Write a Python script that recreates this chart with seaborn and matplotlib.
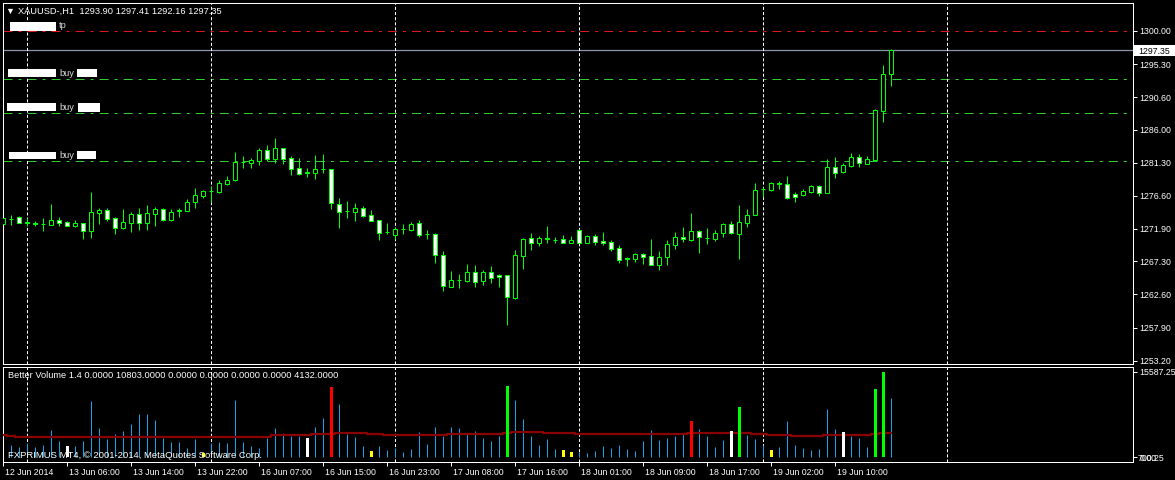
import numpy as np
import pandas as pd
import matplotlib
matplotlib.use('Agg')
import matplotlib.pyplot as plt
import matplotlib.transforms as mtransforms
from matplotlib.patches import Rectangle
import seaborn as sns

# XAUUSD H1, 12 Jun 22:00 -> 19 Jun 17:00 (112 bars)
opens = [
    1272.60, 1273.27, 1273.55, 1272.84, 1272.70, 1272.56, 1272.51, 1273.17, 1272.84, 1272.37,
    1272.70, 1271.66, 1274.21, 1274.59, 1273.41, 1272.09, 1272.79, 1273.98, 1272.75, 1274.07,
    1274.74, 1273.17, 1274.50, 1274.50, 1275.73, 1276.63, 1277.24, 1277.15, 1278.33, 1278.85,
    1281.41, 1281.31, 1281.55, 1283.11, 1281.88, 1283.39, 1281.97, 1280.56, 1279.94, 1279.89,
    1280.37, 1280.37, 1275.40, 1274.45, 1274.36, 1274.83, 1273.84, 1273.17, 1271.52, 1271.09,
    1271.90, 1271.80, 1272.75, 1271.14, 1271.19, 1268.16, 1263.71, 1264.66, 1264.51, 1265.74,
    1264.47, 1265.79, 1265.32, 1265.32, 1262.15, 1268.11, 1270.57, 1269.95, 1270.57, 1270.38,
    1270.43, 1269.95, 1271.75, 1269.95, 1270.90, 1270.14, 1270.05, 1269.20, 1267.73, 1267.64,
    1268.35, 1268.02, 1266.79, 1267.87, 1269.67, 1270.71, 1270.33, 1271.56, 1270.62, 1270.52,
    1271.28, 1272.60, 1271.23, 1272.79, 1273.93, 1277.53, 1277.43, 1278.38, 1278.24, 1276.86,
    1276.77, 1277.15, 1278.00, 1277.05, 1280.65, 1279.99, 1280.88, 1282.07, 1281.17, 1281.74,
    1288.69, 1293.90]
highs = [
    1274.74, 1273.88, 1273.74, 1273.41, 1272.98, 1273.46, 1275.45, 1273.55, 1273.03, 1273.17,
    1272.70, 1277.15, 1274.88, 1274.88, 1273.55, 1274.74, 1274.31, 1274.88, 1275.30, 1275.02,
    1274.88, 1274.74, 1274.88, 1276.11, 1277.72, 1277.43, 1278.00, 1278.85, 1279.42, 1282.83,
    1282.26, 1281.97, 1283.39, 1283.82, 1284.81, 1283.39, 1282.21, 1281.97, 1280.56, 1282.40,
    1282.54, 1280.37, 1276.25, 1275.87, 1275.54, 1275.11, 1274.59, 1273.17, 1272.70, 1272.23,
    1272.56, 1272.84, 1273.17, 1271.76, 1271.33, 1268.72, 1265.93, 1265.51, 1266.93, 1266.79,
    1266.08, 1266.64, 1265.51, 1265.32, 1268.91, 1270.57, 1271.33, 1270.90, 1272.32, 1270.81,
    1271.04, 1270.90, 1271.90, 1271.04, 1271.19, 1271.47, 1270.33, 1269.62, 1267.87, 1268.54,
    1268.49, 1270.48, 1268.82, 1270.33, 1271.47, 1272.18, 1274.17, 1271.75, 1272.04, 1271.75,
    1272.79, 1272.98, 1275.30, 1274.73, 1278.42, 1277.90, 1278.61, 1278.71, 1279.42, 1277.15,
    1277.57, 1278.14, 1278.19, 1281.78, 1282.16, 1281.26, 1282.68, 1282.54, 1282.26, 1288.88,
    1295.17, 1297.41]
lows = [
    1272.46, 1272.46, 1272.70, 1272.32, 1272.32, 1271.66, 1272.46, 1272.32, 1272.32, 1272.18,
    1270.52, 1270.66, 1272.60, 1273.08, 1271.19, 1271.90, 1271.52, 1271.80, 1271.76, 1272.32,
    1273.08, 1273.08, 1273.65, 1274.45, 1274.88, 1276.30, 1275.78, 1276.96, 1278.14, 1278.76,
    1280.60, 1280.60, 1281.03, 1281.50, 1281.31, 1281.17, 1279.61, 1279.61, 1279.33, 1279.04,
    1279.89, 1274.78, 1272.09, 1273.50, 1273.08, 1273.65, 1273.08, 1270.38, 1271.19, 1270.52,
    1271.19, 1271.57, 1270.81, 1270.43, 1267.12, 1263.14, 1263.62, 1263.57, 1264.42, 1263.71,
    1263.99, 1264.28, 1263.71, 1258.32, 1262.01, 1266.26, 1268.96, 1269.53, 1269.95, 1269.86,
    1269.95, 1269.95, 1269.86, 1269.86, 1269.67, 1269.67, 1268.77, 1267.07, 1266.64, 1267.21,
    1266.93, 1266.83, 1266.08, 1266.79, 1269.10, 1270.05, 1270.24, 1268.54, 1269.77, 1270.19,
    1270.81, 1271.19, 1267.68, 1272.23, 1273.93, 1276.48, 1277.29, 1277.57, 1276.20, 1275.73,
    1276.63, 1277.05, 1276.63, 1277.05, 1279.13, 1279.84, 1280.74, 1280.70, 1281.12, 1281.69,
    1287.08, 1292.16]
closes = [
    1273.46, 1273.30, 1272.79, 1272.70, 1272.56, 1272.58, 1273.17, 1272.79, 1272.37, 1272.75,
    1271.66, 1274.31, 1274.59, 1273.36, 1272.09, 1272.89, 1273.98, 1272.79, 1274.17, 1274.74,
    1273.17, 1274.31, 1274.55, 1275.73, 1276.72, 1277.29, 1277.26, 1278.43, 1278.85, 1281.41,
    1281.43, 1281.69, 1283.11, 1281.88, 1283.39, 1281.88, 1280.46, 1279.75, 1279.85, 1280.37,
    1280.35, 1275.54, 1274.36, 1274.47, 1274.83, 1273.74, 1273.08, 1271.38, 1271.47, 1271.90,
    1271.92, 1272.56, 1271.09, 1271.16, 1268.16, 1263.76, 1264.66, 1264.68, 1265.79, 1264.42,
    1265.79, 1264.99, 1265.03, 1262.29, 1268.16, 1270.48, 1269.95, 1270.57, 1270.43, 1270.40,
    1269.95, 1270.33, 1269.95, 1270.90, 1270.10, 1269.95, 1269.10, 1267.54, 1267.59, 1268.35,
    1267.97, 1266.83, 1267.92, 1269.77, 1270.71, 1270.43, 1271.56, 1270.81, 1270.60, 1271.28,
    1272.60, 1271.28, 1272.89, 1273.88, 1277.38, 1277.55, 1278.38, 1278.24, 1276.34, 1276.48,
    1277.24, 1278.00, 1277.05, 1280.65, 1279.89, 1280.93, 1282.07, 1281.22, 1281.83, 1288.74,
    1293.90, 1297.35]

# Better Volume 1.4
volumes = [
    2857, 2248, 1821, 2552, 1821, 2248, 4988, 2978, 2065, 2065,
    2978, 10286, 5292, 3344, 4257, 4805, 6084, 7911, 7911, 6815,
    3526, 2796, 2796, 1699, 3344, 725, 2552, 2796, 2613, 10469,
    2796, 2065, 1699, 3526, 5353, 4440, 3892, 3892, 3526, 5536,
    7180, 12905, 9738, 4257, 3709, 2065, 1151, 2065, 1334, 1638,
    969, 1517, 4623, 2430, 5536, 3892, 5536, 5353, 4257, 4805,
    3526, 2978, 3892, 13027, 10469, 6998, 3892, 2248, 3344, 1517,
    1334, 969, 969, 786, 1151, 2065, 1699, 2248, 1517, 1151,
    2978, 4988, 3161, 3526, 3892, 4257, 6632, 5171, 3892, 1882,
    3161, 4805, 9190, 4075, 3344, 2248, 1334, 1882, 6632, 2248,
    1699, 1334, 1517, 8825, 5171, 4623, 3892, 3526, 1882, 12479,
    15587.25, 10803]
vol_ma = [
    4135, 3892, 3648, 3648, 3648, 3648, 3648, 3648, 3648, 3648,
    3648, 3770, 3770, 3770, 3770, 3770, 3770, 3770, 3770, 3770,
    3770, 3770, 3770, 3770, 3770, 3770, 3770, 3770, 3770, 3770,
    3770, 3770, 3770, 3770, 4014, 4014, 4014, 4014, 4014, 4257,
    4257, 4257, 4501, 4501, 4501, 4501, 4257, 4257, 4075, 4075,
    4075, 4075, 4075, 4075, 4075, 4075, 4257, 4257, 4257, 4257,
    4257, 4257, 4257, 4379, 4623, 4623, 4623, 4623, 4501, 4501,
    4501, 4501, 4257, 4257, 4257, 4257, 4257, 4257, 4257, 4257,
    4257, 4257, 4257, 4257, 4257, 4257, 4501, 4501, 4501, 4501,
    4501, 4501, 4501, 4501, 4257, 4257, 4135, 4135, 4135, 3892,
    3892, 3892, 3892, 4135, 4135, 4135, 4135, 4135, 4135, 4257,
    4501, 4501]
# bars the indicator paints with a special colour
climax_bars = {8: 'white', 25: 'yellow', 38: 'white', 41: 'red', 46: 'yellow',
               63: 'green', 70: 'yellow', 71: 'yellow', 86: 'red', 91: 'white',
               92: 'green', 96: 'yellow', 105: 'white', 109: 'green', 110: 'green'}

time_labels = ['12 Jun 2014', '13 Jun 06:00', '13 Jun 14:00', '13 Jun 22:00',
               '16 Jun 07:00', '16 Jun 15:00', '16 Jun 23:00', '17 Jun 08:00',
               '17 Jun 16:00', '18 Jun 01:00', '18 Jun 09:00', '18 Jun 17:00',
               '19 Jun 02:00', '19 Jun 10:00']
time_label_bars = [0, 8, 16, 24, 32, 40, 48, 56, 64, 72, 80, 88, 96, 104]
day_separators = [3, 26, 49, 72, 95, 118]
price_ticks = [1300.00, 1295.30, 1290.60, 1286.00, 1281.30, 1276.60,
               1271.90, 1267.30, 1262.60, 1257.90, 1253.20]
tp_level = 1300.00
buy_levels = [1293.14, 1288.32, 1281.50]
bid_price = 1297.35

W, H = 1175, 480
GREEN = '#00ff00'
FS = 6.3      # axis labels
FS_T = 6.7    # window captions

sns.set_theme(style='dark', rc={
    'figure.facecolor': 'black', 'axes.facecolor': 'black',
    'axes.edgecolor': 'white', 'axes.linewidth': 0.72,
    'text.color': 'white', 'xtick.color': 'white', 'ytick.color': 'white',
    'axes.grid': False, 'lines.scale_dashes': False})
plt.rcParams['font.family'] = ['Liberation Sans', 'DejaVu Sans']


def fx(x):
    return x / W


def fy(y):
    return 1 - y / H


def box(x0, y0, x1, y1):
    return [fx(x0), fy(y1), (x1 - x0) / W, (y1 - y0) / H]


fig = plt.figure(figsize=(W / 100, H / 100), dpi=100)
ax = fig.add_axes(box(3, 3, 1133, 364))
axv = fig.add_axes(box(3, 367, 1133, 462))

idx = np.arange(len(opens))
o = np.array(opens)
c = np.array(closes)
up = c >= o

# candles
ax.vlines(idx, lows, highs, color=GREEN, lw=0.72, zorder=2)
ax.bar(idx, np.abs(c - o), bottom=np.minimum(o, c), width=0.5,
       color=np.where(up, 'black', 'white'), edgecolor=GREEN,
       linewidth=0.72, zorder=3)

# order lines and bid line
ax.axhline(tp_level, color='#e01818', lw=0.72, dashes=(6.5, 4.3, 2.2, 4.3), zorder=1)
for lvl in buy_levels:
    ax.axhline(lvl, color='#32cd32', lw=0.72, dashes=(6.5, 4.3, 2.2, 4.3), zorder=1)
ax.axhline(bid_price, color='#8c96a8', lw=0.9, zorder=1)

for a in (ax, axv):
    for x in day_separators:
        a.axvline(x, color='white', lw=0.72, dashes=(2.2, 1.5), zorder=1)

ax.set_xlim(-0.04, 141.21)
ax.set_ylim(1252.73, 1303.97)
ax.set_xticks([])
ax.yaxis.tick_right()
ax.set_yticks(price_ticks)
ax.set_yticklabels([f'{v:.2f}' for v in price_ticks])
ax.tick_params(axis='y', right=True, labelright=True, left=False, labelleft=False,
               length=3, width=0.72, pad=1.5, labelsize=FS, colors='white')

# volume panel
df = pd.DataFrame({'bar': idx, 'volume': volumes, 'ma': vol_ma})
df['kind'] = [climax_bars.get(i, 'normal') for i in idx]
normal = df[df['kind'] == 'normal']
special = df[df['kind'] != 'normal']
axv.vlines(normal['bar'], 0, normal['volume'], color='#1aa0e8', lw=0.75, zorder=2)
sns.lineplot(data=df, x='bar', y='ma', color='#8b0000', lw=1.6,
             drawstyle='steps-mid', ax=axv, zorder=3)
sns.barplot(data=special, x='bar', y='volume', hue='kind', native_scale=True,
            width=0.45, dodge=False, saturation=1, linewidth=0, errorbar=None,
            palette={'white': 'white', 'yellow': '#ffff00', 'red': '#ff0000',
                     'green': '#00ff00'}, legend=False, ax=axv, zorder=4)
axv.set_xlim(-0.04, 141.21)
axv.set_ylim(-859, 16498)
axv.set_xlabel('')
axv.set_ylabel('')
axv.set_xticks(time_label_bars)
axv.set_xticklabels(time_labels, ha='left')
axv.tick_params(axis='x', bottom=True, length=3, width=0.72, pad=1.5,
                labelsize=FS, colors='white')
shift = mtransforms.ScaledTranslation(1.5 / 100, 0, fig.dpi_scale_trans)
for lab in axv.get_xticklabels():
    lab.set_transform(lab.get_transform() + shift)
axv.yaxis.tick_right()
axv.set_yticks([max(volumes), 0])
axv.set_yticklabels([f'{max(volumes):.2f}', '0.00'])
axv.tick_params(axis='y', right=True, labelright=True, left=False, labelleft=False,
                length=3, width=0.72, pad=1.5, labelsize=FS, colors='white')
# MT4 prints the window minimum on top of the zero label
axv.text(1.0, 0, '700.25', transform=mtransforms.blended_transform_factory(axv.transAxes, axv.transData)
         + mtransforms.ScaledTranslation(5 / 100, 0, fig.dpi_scale_trans),
         fontsize=FS, color='white', va='center_baseline', ha='left', clip_on=False)
for a in (ax, axv):
    for s in a.spines.values():
        s.set_color('white')
        s.set_linewidth(0.72)

# captions and overlays
fig.text(fx(5.5), fy(14), '\u25bc', fontsize=6.5, color='white', va='baseline')
fig.text(fx(18), fy(14), 'XAUUSD-,H1  1293.90 1297.41 1292.16 1297.35',
         fontsize=FS_T, color='white', va='baseline')
for x0, y0, x1, y1 in [(10, 22, 56, 31), (8, 69, 56, 77), (77, 69, 97, 77),
                       (7, 103, 56, 111), (78, 103, 100, 112),
                       (9, 152, 56, 159), (77, 151, 96, 159)]:
    fig.add_artist(Rectangle((fx(x0), fy(y1)), (x1 - x0) / W, (y1 - y0) / H,
                             transform=fig.transFigure, color='white', lw=0))
fig.text(fx(59), fy(28.5), 'tp', fontsize=FS_T, color='#d8d8d8', va='baseline')
for yb in (75.5, 109.5, 157.5):
    fig.text(fx(59), fy(yb), 'buy', fontsize=FS_T, color='#d8d8d8', va='baseline')
fig.add_artist(Rectangle((fx(1134), fy(56)), 41 / W, 11 / H,
                         transform=fig.transFigure, color='white', lw=0))
fig.text(fx(1138), fy(50), f'{bid_price:.2f}', fontsize=FS, color='black',
         va='center_baseline')
fig.text(fx(8), fy(378.5), 'Better Volume 1.4 0.0000 10803.0000 0.0000 0.0000 0.0000 0.0000 4132.0000',
         fontsize=FS_T, color='white', va='baseline')
fig.text(fx(8), fy(458.5), 'FXPRIMUS MT4, \u00a9 2001-2014, MetaQuotes Software Corp.',
         fontsize=6.8, color='white', va='baseline', zorder=10)

fig.savefig('out.png', dpi=100, facecolor='black')
